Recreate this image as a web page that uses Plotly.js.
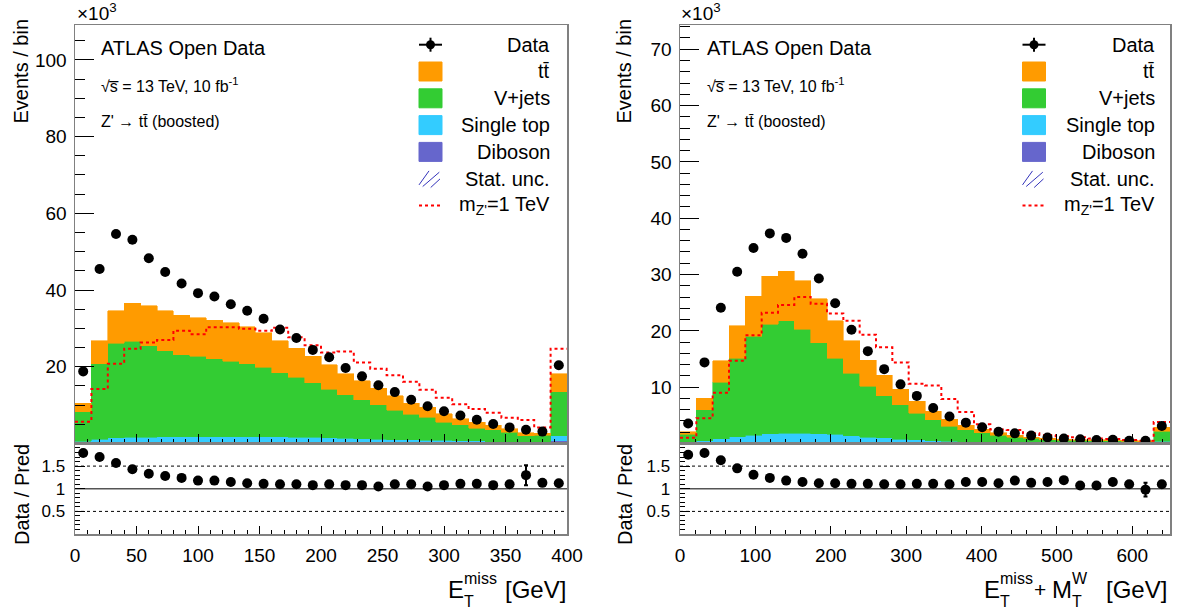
<!DOCTYPE html>
<html>
<head>
<meta charset="utf-8">
<script src="https://cdn.plot.ly/plotly-3.0.1.min.js"></script>
<style>
  html, body { margin: 0; padding: 0; background: #ffffff; }
  #chart { width: 1179px; height: 610px; }
</style>
</head>
<body>
<div id="chart"></div>
<script>
// ---------------- DATA (thousands of events per bin) ----------------
// Left panel: E_T^miss, 30 bins from 0 to 400 GeV
const metRange = [0, 400];
const metData      = [18.8, 45.5, 54.6, 53.1, 48.3, 44.7, 41.7, 39.2, 38.3, 36.3, 34.6, 32.5, 29.7, 27.5, 24.4, 22.5, 19.7, 17.5, 15.2, 13.4, 11.4, 9.7, 8.4, 7.3, 6.2, 5.1, 4.2, 3.6, 3.1, 20.4];
const metTtbar     = [2.2, 6.0, 8.4, 10.0, 10.4, 10.4, 10.3, 10.1, 10.0, 10.0, 9.6, 9.0, 8.3, 7.5, 6.9, 6.3, 5.5, 4.9, 4.3, 3.7, 2.9, 2.5, 2.1, 1.5, 1.6, 1.1, 1.0, 0.75, 0.6, 4.7];
const metVjets     = [7.7, 19.7, 24.7, 25.0, 23.9, 22.5, 21.4, 21.0, 20.3, 19.7, 19.0, 18.2, 16.8, 15.7, 14.2, 12.7, 11.3, 10.1, 9.0, 7.7, 6.6, 6.0, 4.8, 4.2, 3.3, 3.1, 2.4, 1.6, 1.7, 11.5];
const metSingleTop = [0.5, 0.9, 1.2, 1.3, 1.3, 1.4, 1.4, 1.4, 1.5, 1.5, 1.5, 1.4, 1.4, 1.3, 1.3, 1.2, 1.1, 1.0, 0.9, 0.8, 0.8, 0.7, 0.6, 0.5, 0.5, 0.4, 0.4, 0.3, 0.3, 1.3];
const metDiboson   = [0.1, 0.2, 0.3, 0.3, 0.3, 0.3, 0.3, 0.3, 0.3, 0.3, 0.3, 0.3, 0.3, 0.3, 0.3, 0.3, 0.3, 0.3, 0.2, 0.2, 0.2, 0.2, 0.2, 0.2, 0.2, 0.1, 0.1, 0.1, 0.1, 0.7];
const metSignal    = [5.7, 14.2, 20.8, 24.7, 26.3, 27.0, 29.4, 28.5, 30.3, 30.3, 29.9, 29.4, 30.2, 27.7, 25.6, 23.7, 24.0, 21.1, 19.5, 17.8, 16.1, 14.0, 11.9, 10.2, 9.0, 8.0, 6.7, 6.1, 4.2, 24.7];
const metRatio     = [1.79, 1.70, 1.57, 1.43, 1.33, 1.28, 1.24, 1.18, 1.18, 1.15, 1.12, 1.11, 1.10, 1.10, 1.08, 1.10, 1.08, 1.08, 1.05, 1.10, 1.10, 1.05, 1.08, 1.11, 1.11, 1.08, 1.10, 1.30, 1.13, 1.12];
const metRatioErr  = [0.01, 0.01, 0.01, 0.01, 0.01, 0.01, 0.01, 0.01, 0.01, 0.01, 0.01, 0.01, 0.01, 0.01, 0.01, 0.01, 0.01, 0.01, 0.01, 0.01, 0.01, 0.01, 0.01, 0.02, 0.02, 0.02, 0.02, 0.22, 0.03, 0.02];
const metTicks     = [20, 40, 60, 80, 100];

// Right panel: E_T^miss + M_T^W, 30 bins from 0 to 650 GeV
const mtwRange = [0, 650];
const mtwData      = [3.55, 14.4, 24.1, 30.5, 34.7, 37.3, 36.5, 33.7, 29.3, 24.9, 20.2, 16.4, 13.2, 10.5, 8.45, 6.3, 4.8, 3.7, 2.9, 2.1, 1.8, 1.4, 1.07, 0.9, 0.76, 0.6, 0.65, 0.47, 0.47, 3.1];
const mtwTtbar     = [0.45, 2.0, 3.8, 5.8, 7.1, 8.5, 8.8, 8.6, 7.8, 6.7, 5.7, 4.6, 3.65, 2.75, 2.1, 1.5, 1.2, 0.85, 0.55, 0.45, 0.4, 0.2, 0.24, 0.16, 0.15, 0.15, 0.15, 0.15, 0.15, 0.7];
const mtwVjets     = [1.35, 5.5, 10.05, 13.9, 17.55, 19.5, 20.0, 18.5, 16.2, 13.5, 11.15, 9.1, 7.45, 6.1, 4.75, 3.7, 2.7, 2.07, 1.68, 1.29, 0.93, 0.76, 0.58, 0.5, 0.46, 0.42, 0.38, 0.34, 0.29, 1.75];
const mtwSingleTop = [0.2, 0.4, 0.7, 1.0, 1.2, 1.4, 1.5, 1.5, 1.4, 1.3, 1.1, 0.9, 0.8, 0.6, 0.5, 0.4, 0.3, 0.25, 0.2, 0.15, 0.12, 0.1, 0.08, 0.07, 0.06, 0.05, 0.05, 0.04, 0.04, 0.3];
const mtwDiboson   = [0.05, 0.1, 0.15, 0.2, 0.25, 0.3, 0.3, 0.3, 0.3, 0.3, 0.25, 0.2, 0.2, 0.15, 0.15, 0.1, 0.1, 0.08, 0.07, 0.06, 0.05, 0.04, 0.04, 0.03, 0.03, 0.03, 0.02, 0.02, 0.02, 0.1];
const mtwSignal    = [1.0, 4.5, 9.0, 14.7, 19.2, 23.2, 24.6, 26.0, 24.8, 23.1, 21.8, 19.3, 17.1, 14.4, 10.6, 10.3, 7.9, 5.6, 3.4, 2.5, 2.4, 1.8, 1.5, 1.3, 1.1, 0.9, 0.8, 0.6, 0.5, 3.8];
const mtwRatio     = [1.75, 1.79, 1.63, 1.45, 1.31, 1.24, 1.18, 1.15, 1.12, 1.12, 1.11, 1.11, 1.10, 1.10, 1.11, 1.11, 1.10, 1.15, 1.15, 1.12, 1.18, 1.13, 1.15, 1.19, 1.07, 1.07, 1.15, 1.10, 0.98, 1.10];
const mtwRatioErr  = [0.02, 0.01, 0.01, 0.01, 0.01, 0.01, 0.01, 0.01, 0.01, 0.01, 0.01, 0.01, 0.01, 0.01, 0.01, 0.01, 0.01, 0.02, 0.02, 0.02, 0.02, 0.02, 0.03, 0.03, 0.03, 0.04, 0.04, 0.04, 0.15, 0.03];
const mtwTicks     = [10, 20, 30, 40, 50, 60, 70];

const ratioTicks = [0.5, 1, 1.5];
const legendLabels = ['Data', 'tt\u0304', 'V+jets', 'Single top', 'Diboson', 'Stat. unc.', "m<sub>Z'</sub>=1 TeV"];
const colors = { ttbar: '#FF9B00', vjets: '#33CC33', stop: '#33CCFF', diboson: '#6666CC', signal: '#FF0000', stat: '#3333BB' };

// ---------------- HELPERS ----------------
const W = 1179, H = 610;
const px = v => v / W;
const py = v => 1 - v / H;
const FONT = 'Liberation Sans, Arial, Helvetica, sans-serif';

function binCenters(range, n) {
  const w = (range[1] - range[0]) / n;
  return Array.from({length: n}, (_, i) => range[0] + (i + 0.5) * w);
}
function binEdges(range, n) {
  const w = (range[1] - range[0]) / n;
  return Array.from({length: n + 1}, (_, i) => range[0] + i * w);
}

function panel(xa, ya, xr, yr, range, data, tt, vj, st, db, sig, ratio, ratioErr) {
  const n = data.length;
  const w = (range[1] - range[0]) / n;
  const c = binCenters(range, n);
  const e = binEdges(range, n);
  const traces = [];
  [[db, colors.diboson], [st, colors.stop], [vj, colors.vjets], [tt, colors.ttbar]].forEach(([v, col]) => {
    traces.push({type: 'bar', x: c, y: v, width: w, xaxis: xa, yaxis: ya,
      marker: {color: col, line: {width: 0.6, color: col}}, showlegend: false, hoverinfo: 'skip'});
  });
  traces.push({type: 'scatter', mode: 'lines', x: e, y: sig.concat([sig[n - 1]]), xaxis: xa, yaxis: ya,
    line: {shape: 'hv', color: colors.signal, width: 2, dash: '3px,3px'}, showlegend: false, hoverinfo: 'skip'});
  traces.push({type: 'scatter', mode: 'markers', x: c, y: data, xaxis: xa, yaxis: ya,
    marker: {color: '#000', size: 10}, showlegend: false, hoverinfo: 'skip'});
  traces.push({type: 'scatter', mode: 'markers', x: c, y: ratio, xaxis: xr, yaxis: yr,
    marker: {color: '#000', size: 10},
    error_y: {type: 'data', array: ratioErr, visible: true, color: '#000', thickness: 2, width: 2},
    showlegend: false, hoverinfo: 'skip'});
  return traces;
}

const traces = [].concat(
  panel('x', 'y', 'x2', 'y2', metRange, metData, metTtbar, metVjets, metSingleTop, metDiboson, metSignal, metRatio, metRatioErr),
  panel('x3', 'y3', 'x4', 'y4', mtwRange, mtwData, mtwTtbar, mtwVjets, mtwSingleTop, mtwDiboson, mtwSignal, mtwRatio, mtwRatioErr)
);

// ---------------- AXES ----------------
const base = {showline: true, linecolor: '#808080', linewidth: 1.5, mirror: true, ticks: 'inside',
  tickcolor: '#000', tickwidth: 1, showgrid: false, zeroline: false, fixedrange: true, automargin: false,
  tickfont: {family: FONT, size: 19, color: '#000'}};

const leftX = [px(75), px(567)], rightX = [px(680), px(1170)];
const mainY = [py(443.5), py(25)], ratioY = [py(534), py(443.5)];

function xMain(domain, range, dtick, minor, anchor) {
  return Object.assign({}, base, {domain, range, anchor, tick0: 0, dtick, ticklen: 10, showticklabels: false,
    minor: {ticks: 'inside', dtick: minor, ticklen: 5, tickcolor: '#000', tickwidth: 1}});
}
function xRatio(domain, range, dtick, minor, anchor) {
  return Object.assign({}, base, {domain, range, anchor, tick0: 0, dtick, ticklen: 8, showticklabels: true,
    ticklabelstandoff: 4,
    minor: {ticks: 'inside', dtick: minor, ticklen: 4, tickcolor: '#000', tickwidth: 1}});
}
function yMain(domain, range, tickvals, minor, anchor) {
  return Object.assign({}, base, {domain, range, anchor, tickmode: 'array', tickvals,
    ticktext: tickvals.map(String), ticklen: 19, ticklabelstandoff: 3,
    minor: {ticks: 'inside', tickmode: 'linear', tick0: 0, dtick: minor, ticklen: 10, tickcolor: '#000', tickwidth: 1}});
}
function yRatio(domain, anchor) {
  return Object.assign({}, base, {domain, range: [0.001, 1.999], anchor, tickmode: 'array', tickvals: ratioTicks,
    ticktext: ratioTicks.map(String), ticklen: 10,
    ticklabelstandoff: 5, tickfont: {family: FONT, size: 17, color: '#000'},
    minor: {ticks: 'inside', tickmode: 'linear', tick0: 0, dtick: 0.1, ticklen: 5, tickcolor: '#000', tickwidth: 1}});
}

// ---------------- SHAPES & ANNOTATIONS ----------------
const shapes = [];
const annotations = [];

// ratio reference lines
[['x2', 'y2'], ['x4', 'y4']].forEach(([xr, yr]) => {
  shapes.push({type: 'line', xref: xr + ' domain', yref: yr, x0: 0, x1: 1, y0: 1, y1: 1, layer: 'below',
    line: {color: '#555', width: 1.5}});
  [0.5, 1.5].forEach(v => shapes.push({type: 'line', xref: xr + ' domain', yref: yr, x0: 0, x1: 1, y0: v, y1: v,
    layer: 'below', line: {color: '#000', width: 1, dash: 'dot'}}));
});

function txt(x, y, text, size, xanchor, extra) {
  annotations.push(Object.assign({xref: 'paper', yref: 'paper', x: px(x), y: py(y), text, showarrow: false,
    xanchor: xanchor || 'left', yanchor: 'middle', font: {family: FONT, size, color: '#000'}, borderpad: 0}, extra || {}));
}
function pline(x0, y0, x1, y1, color, width, dash) {
  shapes.push({type: 'line', xref: 'paper', yref: 'paper', x0: px(x0), y0: py(y0), x1: px(x1), y1: py(y1),
    line: {color, width, dash: dash || 'solid'}, layer: 'above'});
}

function legend(xs, xr) {
  const rows = [44.7, 71.5, 98.3, 125.1, 151.9, 178.7, 205.5];
  // Data
  pline(xs - 11.5, rows[0], xs + 11.5, rows[0], '#000', 2);
  pline(xs, rows[0] - 7, xs, rows[0] + 7, '#000', 2);
  shapes.push({type: 'circle', xref: 'paper', yref: 'paper', x0: px(xs - 4.5), x1: px(xs + 4.5),
    y0: py(rows[0] + 4.5), y1: py(rows[0] - 4.5), fillcolor: '#000', line: {width: 0}, layer: 'above'});
  // filled boxes
  [colors.ttbar, colors.vjets, colors.stop, colors.diboson].forEach((col, i) => {
    const y = rows[i + 1];
    shapes.push({type: 'rect', xref: 'paper', yref: 'paper', x0: px(xs - 11.5), x1: px(xs + 11.5),
      y0: py(y + 9.5), y1: py(y - 9.5), fillcolor: col, line: {color: col, width: 1}, layer: 'above'});
  });
  // stat unc hatch
  const ys = rows[5];
  pline(xs - 11.5, ys + 6.2, xs - 1.5, ys - 7.8, colors.stat, 1);
  pline(xs - 7.8, ys + 7.8, xs + 8.8, ys - 6.5, colors.stat, 1);
  pline(xs + 0.2, ys + 8.8, xs + 9.5, ys + 0.2, colors.stat, 1);
  // signal
  pline(xs - 11.5, rows[6], xs + 11.5, rows[6], colors.signal, 2, '3px,3px');
  legendLabels.forEach((lab, i) => txt(xr, rows[i], lab, 20, 'right'));
}
legend(430.5, 551);
legend(1034, 1156);

// ATLAS labels
[[100, 76, 21], [706, 680, 624]].forEach(([xl, xax, xyt]) => {
  txt(xl, 48, 'ATLAS Open Data', 20);
  txt(xl, 85, '\u221As\u0305 = 13 TeV, 10 fb<sup>-1</sup>', 16);
  txt(xl, 122, "Z' \u2192 tt\u0304 (boosted)", 16);
  txt(xax, 12, '\u00D710<sup>3</sup>', 19);
  annotations.push({xref: 'paper', yref: 'paper', x: px(xyt), y: py(18), text: 'Events / bin', textangle: -90,
    showarrow: false, xanchor: 'center', yanchor: 'top', font: {family: FONT, size: 20, color: '#000'}, borderpad: 0});
  annotations.push({xref: 'paper', yref: 'paper', x: px(xyt + 1), y: py(495), text: 'Data / Pred', textangle: -90,
    showarrow: false, xanchor: 'center', yanchor: 'middle', font: {family: FONT, size: 20, color: '#000'}, borderpad: 0});
});

// x-axis titles (stacked sub/superscripts as in ROOT)
txt(447, 589, 'E', 24);
txt(463, 578, 'miss', 16);
txt(463, 601, 'T', 16);
txt(567, 589, '[GeV]', 24, 'right');

txt(983, 589, 'E', 24);
txt(999, 578, 'miss', 16);
txt(999, 601, 'T', 16);
txt(1040, 589, '+', 21, 'center');
txt(1051, 589, 'M', 24);
txt(1071, 578, 'W', 16);
txt(1071, 601, 'T', 16);
txt(1168, 589, '[GeV]', 24, 'right');

const layout = {
  width: W, height: H,
  margin: {l: 0, r: 0, t: 0, b: 0, pad: 0},
  paper_bgcolor: '#fff', plot_bgcolor: 'rgba(0,0,0,0)',
  barmode: 'stack', bargap: 0,
  showlegend: false,
  font: {family: FONT, color: '#000'},
  xaxis: xMain(leftX, metRange, 50, 10, 'y'),
  yaxis: yMain(mainY, [0, 109.1], metTicks, 5, 'x'),
  xaxis2: xRatio(leftX, metRange, 50, 10, 'y2'),
  yaxis2: yRatio(ratioY, 'x2'),
  xaxis3: xMain(rightX, mtwRange, 100, 20, 'y3'),
  yaxis3: yMain(mainY, [0, 74.3], mtwTicks, 2, 'x3'),
  xaxis4: xRatio(rightX, mtwRange, 100, 20, 'y4'),
  yaxis4: yRatio(ratioY, 'x4'),
  shapes, annotations
};

Plotly.newPlot('chart', traces, layout, {staticPlot: true, displayModeBar: false});
</script>
</body>
</html>
